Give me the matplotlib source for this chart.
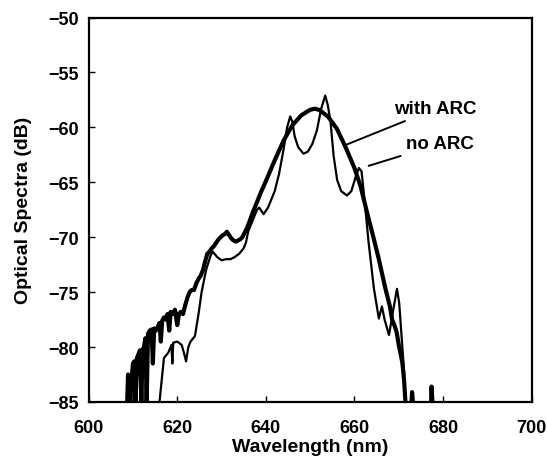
import numpy as np
import matplotlib
matplotlib.use("Agg")
import matplotlib.pyplot as plt

# ---------------------------------------------------------------------------
# Data (wavelength in nm, optical spectra in dB)
# ---------------------------------------------------------------------------
nan = np.nan

with_arc_wl = [
    608.7, 608.9, 609.2, 609.4, 609.7, 610.0, 610.3, 610.6, 610.9, 611.3,
    611.6, 611.9, 612.2, 612.5, 612.8, 613.1, 613.4, 613.8, 614.2, 614.5,
    614.8, 615.2, 615.6, 616.0, 616.3, 616.6, 617.0, 617.4, 617.8, 618.2,
    618.5, 619.0, 619.5, 620.0, 620.4, 620.8, 621.3, 621.8, 622.3, 622.8,
    623.3, 623.8, 624.3, 624.8, 625.3, 625.8, 626.3, 626.8, 627.3, 627.8,
    628.3, 628.8, 629.3, 629.8, 630.3, 630.8, 631.2, 631.7, 632.2, 632.7,
    633.2, 633.7, 634.2, 634.7, 635.2, 635.7, 636.2, 637.0, 638.0, 639.0,
    640.0, 642.0, 644.0, 646.0, 648.0, 650.0, 651.0, 652.0, 654.0, 656.0,
    658.0, 660.0, 661.4, 663.0, 664.4, 665.5, 667.0, 668.0, 668.5, 669.0,
    669.5, 670.0, 670.8, 671.2, 671.5,
    nan, 672.9, 673.0, 673.2, nan, 677.3, 677.4, 677.6,
]
with_arc_db = [
    -85.0, -82.5, -82.8, -85.0, -83.0, -81.5, -81.3, -85.0, -81.0, -80.6,
    -80.3, -85.0, -80.2, -80.0, -79.2, -85.0, -78.8, -78.5, -78.4, -81.5,
    -78.3, -78.5, -78.2, -77.8, -79.5, -77.6, -77.3, -77.5, -77.0, -78.5,
    -76.8, -77.0, -76.6, -78.0, -77.0, -76.8, -77.0, -76.2, -75.5, -75.0,
    -74.8, -74.8, -74.2, -73.8, -73.5, -73.0, -72.2, -71.5, -71.3, -71.0,
    -70.8, -70.5, -70.2, -70.0, -69.8, -69.7, -69.5, -69.8, -70.1, -70.3,
    -70.4, -70.3, -70.2, -70.0, -69.6, -69.2, -68.7, -67.8, -66.8, -65.8,
    -64.9, -63.0, -61.2, -59.8, -58.9, -58.4, -58.3, -58.4, -59.0, -60.1,
    -61.8, -63.7, -65.4, -68.0, -70.2, -72.0, -74.7, -76.3, -77.5, -78.0,
    -78.6, -79.8, -81.4, -83.0, -85.0,
    nan, -85.0, -84.1, -85.0, nan, -85.0, -83.6, -85.0,
]

no_arc_wl = [
    616.0, 616.5, 617.0, 618.0, 618.7, 618.9, 619.1, 620.0, 621.0, 621.5,
    622.0, 622.5, 623.0, 624.0, 624.8, 625.5, 626.5, 627.5, 628.0, 629.0,
    630.0, 631.0, 632.0, 633.0, 634.0, 635.0, 635.5, 636.0, 637.0, 638.0,
    638.5, 639.5, 640.5, 642.0, 643.0, 644.0, 644.8, 645.5, 646.0, 646.5,
    647.3, 648.5, 649.5, 650.5, 651.5, 652.5, 653.4, 654.0, 654.6, 655.3,
    656.1, 657.0, 658.3, 659.3, 660.2, 661.0, 661.6, 662.2, 663.2, 664.4,
    665.5, 666.2, 666.8, 667.8, 668.8, 669.6, 670.1, 670.4, 671.2, 671.5,
]
no_arc_db = [
    -85.0, -83.0, -81.0, -80.5, -79.8, -81.5, -79.6, -79.5, -79.8, -80.5,
    -81.3, -80.0, -79.5, -79.0, -77.0, -75.0, -73.0, -71.7, -71.3, -71.8,
    -72.1, -72.0, -72.0, -71.8, -71.5, -71.0, -70.5, -69.5, -68.5, -67.5,
    -67.3, -67.9, -67.3, -65.8, -64.2, -62.0, -60.0, -59.0, -59.5, -60.8,
    -61.8, -62.4, -62.2, -61.5, -60.3, -58.3, -57.1, -58.0, -59.5, -62.6,
    -64.8, -65.8, -66.2, -65.8, -64.6, -63.7, -64.0, -66.3, -70.5, -74.7,
    -77.4, -76.3, -77.5, -78.9, -76.5, -74.7, -76.0, -77.7, -82.2, -85.0,
]

x_ticks = [600, 620, 640, 660, 680, 700]
y_ticks = [-85, -80, -75, -70, -65, -60, -55, -50]

# ---------------------------------------------------------------------------
# Figure
# ---------------------------------------------------------------------------
plt.rcParams["font.family"] = ["Liberation Sans", "DejaVu Sans"]
plt.rcParams["font.weight"] = "bold"

fig = plt.figure(figsize=(5.47, 4.64), dpi=100)
ax = fig.add_axes([0.162, 0.1315, 0.810, 0.8285])

ax.plot(no_arc_wl, no_arc_db, color="black", linewidth=1.6,
        solid_joinstyle="round")
ax.plot(with_arc_wl, with_arc_db, color="black", linewidth=3.0,
        solid_joinstyle="round")

ax.set_xlim(600, 700)
ax.set_ylim(-85, -50)
ax.set_xticks(x_ticks)
ax.set_yticks(y_ticks)
ax.tick_params(direction="in", length=4, width=1, labelsize=13)
ax.tick_params(axis="x", pad=12)
ax.tick_params(axis="y", pad=7)
for lbl in ax.get_xticklabels() + ax.get_yticklabels():
    lbl.set_fontweight("bold")
for spine in ax.spines.values():
    spine.set_linewidth(1.6)

ax.set_xlabel("Wavelength (nm)", fontsize=14, fontweight="bold", labelpad=2)
ax.set_ylabel("Optical Spectra (dB)", fontsize=14, fontweight="bold", labelpad=12)

# leader-line labels
ax.annotate("with ARC", xy=(658.0, -61.6), xytext=(669.0, -58.3),
            fontsize=13.5, fontweight="bold", va="center", ha="left",
            arrowprops=dict(arrowstyle="-", color="black", lw=1.4,
                            shrinkA=2, shrinkB=0))
ax.annotate("no ARC", xy=(663.2, -63.5), xytext=(671.6, -61.5),
            fontsize=13.5, fontweight="bold", va="center", ha="left",
            arrowprops=dict(arrowstyle="-", color="black", lw=1.4,
                            shrinkA=2, shrinkB=0))

fig.savefig("out.png", dpi=100, facecolor="white")
